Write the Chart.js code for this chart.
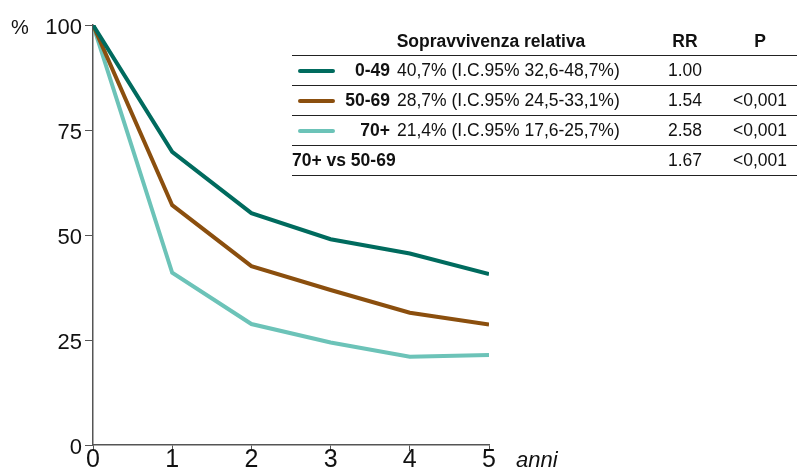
<!DOCTYPE html>
<html>
<head>
<meta charset="utf-8">
<script src="https://cdn.jsdelivr.net/npm/chart.js@4"></script>
<style>
  body { margin: 0; background: #fff; }
  #wrap { position: relative; width: 797px; height: 474px; }
  #tbl { position: absolute; left: 292px; top: 28px; width: 505px;
         font-family: "Liberation Sans", Arial, sans-serif;
         font-size: 17.5px; color: #111; }
  .row { position: relative; height: 29px; line-height: 29px; border-bottom: 1.5px solid #222; }
  .row span { position: absolute; white-space: nowrap; }
  .sample { left: 6px; width: 37px; height: 4px; top: 13px; border-radius: 2px; }
  .grp { right: 407px; font-weight: bold; }
  .val { left: 105px; }
  .rr { left: 393px; transform: translateX(-50%); }
  .p { left: 468px; transform: translateX(-50%); }
  .hd { font-weight: bold; }
</style>
</head>
<body>
<div id="wrap">
  <canvas id="chart" width="797" height="474"></canvas>
  <div id="tbl"></div>
</div>
<script>
// data
const years = [0, 1, 2, 3, 4, 5];
const groups = ['0-49', '50-69', '70+'];
const survival0_49 = [100, 69.8, 55.2, 49.0, 45.6, 40.7];
const survival50_69 = [100, 57.1, 42.6, 36.9, 31.5, 28.7];
const survival70 = [100, 41.0, 28.8, 24.4, 21.0, 21.4];
const yTicks = [0, 25, 50, 75, 100];
const relSurvival = ['40,7% (I.C.95% 32,6-48,7%)', '28,7% (I.C.95% 24,5-33,1%)', '21,4% (I.C.95% 17,6-25,7%)'];
const rrValues = ['1.00', '1.54', '2.58'];
const pValues = ['', '<0,001', '<0,001'];
const compareLabel = '70+ vs 50-69';
const compareRR = '1.67';
const compareP = '<0,001';

const colors = ['#006b5e', '#8b4f0e', '#6cc3b8'];
const series = [survival0_49, survival50_69, survival70];

// table with legend
const tbl = document.getElementById('tbl');
let html = '<div class="row" style="height:27px;line-height:27px"><span class="hd" style="left:199px;transform:translateX(-50%)">Sopravvivenza relativa</span>' +
    '<span class="rr hd">RR</span><span class="p hd">P</span></div>';
groups.forEach((g, i) => {
    html += `<div class="row"><span class="sample" style="background:${colors[i]}"></span>` +
        `<span class="grp">${g}</span><span class="val">${relSurvival[i]}</span>` +
        `<span class="rr">${rrValues[i]}</span><span class="p">${pValues[i].replace('<', '&lt;')}</span></div>`;
});
html += `<div class="row"><span class="hd" style="left:0">${compareLabel}</span>` +
    `<span class="rr">${compareRR}</span><span class="p">${compareP.replace('<', '&lt;')}</span></div>`;
tbl.innerHTML = html;

// extra axis labels: "%" and "anni"
const axisLabels = {
    id: 'axisLabels',
    afterDraw(chart) {
        const { ctx, scales } = chart;
        ctx.save();
        ctx.fillStyle = '#111';
        ctx.font = '20px "Liberation Sans", Arial, sans-serif';
        ctx.textBaseline = 'middle';
        ctx.textAlign = 'left';
        ctx.fillText('%', 11, scales.y.getPixelForValue(100) + 3);
        ctx.font = 'italic 22px "Liberation Sans", Arial, sans-serif';
        ctx.textBaseline = 'alphabetic';
        ctx.fillText('anni', scales.x.getPixelForValue(5) + 27, 467);
        ctx.restore();
    }
};

new Chart(document.getElementById('chart'), {
    type: 'line',
    data: {
        datasets: series.map((s, i) => ({
            label: groups[i],
            data: s.map((v, j) => ({ x: years[j], y: v })),
            borderColor: colors[i],
            borderWidth: 4,
            pointRadius: 0,
            tension: 0,
            fill: false
        }))
    },
    options: {
        responsive: false,
        animation: false,
        layout: { padding: { top: 25, right: 308, left: 0, bottom: 0 } },
        plugins: { legend: { display: false }, tooltip: { enabled: false } },
        scales: {
            x: {
                type: 'linear', min: 0, max: 5,
                afterFit: s => { s.height = 29; },
                ticks: { stepSize: 1, color: '#111', font: { family: '"Liberation Sans", Arial, sans-serif', size: 25 }, padding: -6, maxRotation: 0 },
                grid: { drawOnChartArea: false, tickLength: 6, color: '#555' },
                border: { color: '#555', width: 1.5 }
            },
            y: {
                min: 0, max: 100,
                afterFit: s => { s.width = 93; },
                afterBuildTicks: s => { s.ticks = yTicks.map(v => ({ value: v })); },
                ticks: { color: '#111', font: { family: '"Liberation Sans", Arial, sans-serif', size: 22 }, padding: 3, labelOffset: 3 },
                grid: { drawOnChartArea: false, tickLength: 8, color: '#555' },
                border: { color: '#555', width: 1.5 }
            }
        }
    },
    plugins: [axisLabels]
});
</script>
</body>
</html>
